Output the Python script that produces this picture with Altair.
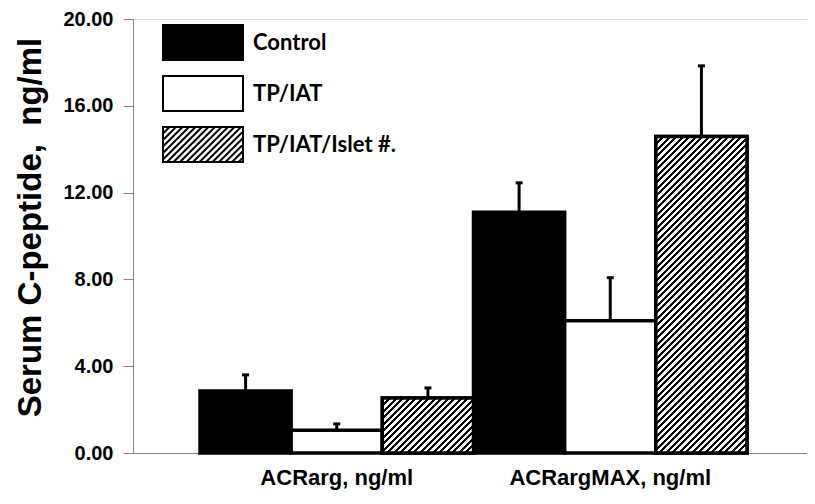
import altair as alt
import pandas as pd

# ---------------- data ----------------
GROUPS = ["ACRarg, ng/ml", "ACRargMAX, ng/ml"]
SERIES = ["Control", "TP/IAT", "TP/IAT/Islet #."]
CONTROL = [2.86, 11.10]
TP_IAT = [1.05, 6.10]
TP_IAT_ISLET = [2.54, 14.58]
CONTROL_UPPER = [3.60, 12.45]
TP_IAT_UPPER = [1.34, 8.08]
TP_IAT_ISLET_UPPER = [3.00, 17.84]
Y_TICKS = [0, 4, 8, 12, 16, 20]

means = [CONTROL, TP_IAT, TP_IAT_ISLET]
uppers = [CONTROL_UPPER, TP_IAT_UPPER, TP_IAT_ISLET_UPPER]
rows = []
for si, s in enumerate(SERIES):
    for gi, g in enumerate(GROUPS):
        rows.append({"group": g, "series": s, "mean": means[si][gi], "upper": uppers[si][gi]})
df = pd.DataFrame(rows)

# ---------------- layout / style ----------------
PLOT_W, PLOT_H = 674, 434
Y_MAX = Y_TICKS[-1]
PAD_OUTER, ALIGN = 0.2322, 0.5276
STEP = PLOT_W / (len(GROUPS) + 2 * PAD_OUTER)
BAR_W = STEP / len(SERIES)
PX_PER_UNIT = PLOT_H / Y_MAX
FONT = "Liberation Sans"
GRAY = "#868686"
HATCH_PERIOD, HATCH_DARK = 6.5, 2.8


def hatch_gradient(w, h):
    L = w + h
    r = h / w
    a = (1 + r) / (1 + r * r)
    stops = []
    pos = 0.0
    last = 0.0
    while pos < L - 1e-6:
        d1 = min(pos + HATCH_DARK, L) / L
        e = min(pos + HATCH_PERIOD, L) / L
        d0 = max(pos / L, last)
        for off, col in [(d0, "black"), (d1, "black"), (d1, "white"), (e, "white")]:
            off = round(max(min(off, 1.0), last), 6)
            stops.append(alt.GradientStop(color=col, offset=off))
            last = off
        pos += HATCH_PERIOD
    return alt.LinearGradient(gradient="linear", stops=stops, x1=0, y1=0, x2=a, y2=a * r)


# legend symbol paths (unit = sqrt(size)/2 px)
SYM_SIZE = 35 * 35
UNIT = (SYM_SIZE ** 0.5) / 2
HW, HH = 40 / UNIT, 17.5 / UNIT


def rect_path():
    return f"M{-HW:.4f},{-HH:.4f}H{HW:.4f}V{HH:.4f}H{-HW:.4f}Z"


def hatch_path():
    p = rect_path()
    sp = HATCH_PERIOD / UNIT
    c = -HW - HH + sp
    while c < HW + HH - 1e-6:
        y0 = max(-HH, c - HW)
        y1 = min(HH, c + HW)
        p += f"M{c - y0:.4f},{y0:.4f}L{c - y1:.4f},{y1:.4f}"
        c += sp
    return p


x_scale = alt.Scale(domain=GROUPS, paddingInner=0, paddingOuter=PAD_OUTER, align=ALIGN)
xo_scale = alt.Scale(domain=SERIES, paddingInner=0, paddingOuter=0)
y_scale = alt.Scale(domain=[0, Y_MAX], nice=False, zero=True)
fill_scale = alt.Scale(domain=SERIES, range=["black", "white", "white"])
stroke_scale = alt.Scale(domain=SERIES, range=["black", "black", "black"])
shape_scale = alt.Scale(domain=SERIES, range=[rect_path(), rect_path(), hatch_path()])

Y_TITLE = "Serum C-peptide,\u00a0 ng/ml"

x_axis = alt.Axis(
    title=None, domainColor=GRAY, domainWidth=1, ticks=False, tickSize=0,
    labelFont=FONT, labelFontSize=22, labelFontWeight="bold", labelColor="black",
    labelAngle=0, labelPadding=31, labelBaseline="alphabetic", labelLimit=0,
)
y_axis = alt.Axis(
    values=Y_TICKS, format=".2f", grid=False,
    domainColor=GRAY, domainWidth=1, tickColor=GRAY, tickSize=10, tickWidth=1,
    labelFont=FONT, labelFontSize=20, labelFontWeight="bold", labelColor="black", labelPadding=10,
    title=Y_TITLE, titleFont=FONT, titleFontSize=33, titleFontWeight="bold", titleColor="black",
    titleAngle=270, titleAlign="center", titleBaseline="alphabetic", titleX=-93, titleY=208,
)

X = alt.X("group:N", scale=x_scale, axis=x_axis, sort=GROUPS)
XO = alt.XOffset("series:N", scale=xo_scale, sort=SERIES)
Y = alt.Y("mean:Q", scale=y_scale, axis=y_axis, title=Y_TITLE)

legend = alt.Legend(
    title=None, orient="none", legendX=51.5, legendY=5,
    symbolSize=SYM_SIZE, symbolStrokeWidth=2, symbolStrokeColor="black",
    labelFont="Lato", labelFontWeight="bold", labelFontSize=22, labelColor="black",
    labelOffset=31.5, rowPadding=8, labelLimit=400,
)

base = alt.Chart(df)

bars = base.mark_bar(strokeWidth=3.5).encode(
    x=X, xOffset=XO, y=Y,
    fill=alt.Fill("series:N", scale=fill_scale, legend=legend),
    stroke=alt.Stroke("series:N", scale=stroke_scale, legend=legend),
)

hatch_layers = []
for gi, g in enumerate(GROUPS):
    h = TP_IAT_ISLET[gi] * PX_PER_UNIT
    hatch_layers.append(
        base.transform_filter(
            (alt.datum.series == SERIES[2]) & (alt.datum.group == g)
        ).mark_bar(fill=hatch_gradient(BAR_W, h), stroke="black", strokeWidth=3.5).encode(
            x=X, xOffset=XO, y=Y
        )
    )

err_rules = base.mark_rule(color="black", strokeWidth=3).encode(
    x=X, xOffset=XO, y=Y, y2="upper:Q"
)
err_caps = base.mark_tick(color="black", orient="horizontal", size=7, thickness=3, opacity=1).encode(
    x=X, xOffset=XO, y=alt.Y("upper:Q", scale=y_scale, axis=y_axis, title=Y_TITLE)
)

legend_layer = base.transform_filter("false").mark_point(
    filled=True, opacity=1, strokeWidth=2, size=SYM_SIZE
).encode(
    x=X, xOffset=XO, y=Y,
    fill=alt.Fill("series:N", scale=fill_scale, legend=legend),
    stroke=alt.Stroke("series:N", scale=stroke_scale, legend=legend),
    shape=alt.Shape("series:N", scale=shape_scale, legend=legend),
)

chart = alt.layer(legend_layer, bars, *hatch_layers, err_rules, err_caps).properties(
    width=PLOT_W, height=PLOT_H,
    autosize=alt.AutoSizeParams(type="none"),
    padding={"left": 125, "top": 11, "right": 0, "bottom": 37},
).configure_view(stroke=None).configure(background="white")

chart.save("out.html", embed_options={"renderer": "svg", "actions": False})
